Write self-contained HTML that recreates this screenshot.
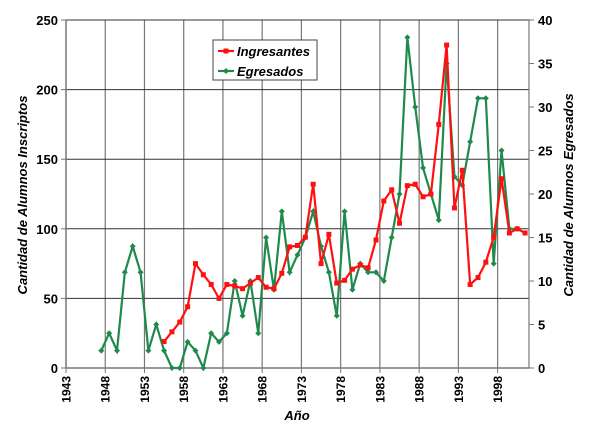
<!DOCTYPE html>
<html><head><meta charset="utf-8"><style>
body{margin:0;background:#fff}
svg text{font-family:"Liberation Sans",Arial,sans-serif;font-weight:bold;fill:#000}
</style></head><body>
<svg width="600" height="437" id="c">
</svg>
<script>
const years = [];for(let y=1943;y<=2001;y++)years.push(y);
const ingYears = [1955,1956,1957,1958,1959,1960,1961,1962,1963,1964,1965,1966,1967,1968,1969,1970,1971,1972,1973,1974,1975,1976,1977,1978,1979,1980,1981,1982,1983,1984,1985,1986,1987,1988,1989,1990,1991,1992,1993,1994,1995,1996,1997,1998,1999,2000,2001];
const ingValues = [19,26,33,44,75,67,60,50,60,59,57,61,65,58,57,68,87,88,94,132,75,96,61,63,71,74,72,92,120,128,104,131,132,123,125,175,232,115,142,60,65,76,94,136,97,100,97];
const egrYears = [1947,1948,1949,1950,1951,1952,1953,1954,1955,1956,1957,1958,1959,1960,1961,1962,1963,1964,1965,1966,1967,1968,1969,1970,1971,1972,1973,1974,1975,1976,1977,1978,1979,1980,1981,1982,1983,1984,1985,1986,1987,1988,1989,1990,1991,1992,1993,1994,1995,1996,1997,1998,1999,2000];
const egrValues = [2,4,2,11,14,11,2,5,2,0,0,3,2,0,4,3,4,10,6,10,4,15,9,18,11,13,15,18,14,11,6,18,9,12,11,11,10,15,20,38,30,23,20,17,35,22,21,26,31,31,12,25,16,16];
const leftTicks = [0,50,100,150,200,250];
const rightTicks = [0,5,10,15,20,25,30,35,40];
const xTickYears = [1943,1948,1953,1958,1963,1968,1973,1978,1983,1988,1993,1998];

const L=66,R=529,T=20,B=368,yw=(R-L)/59;
const xEdge=y=>L+(y-1943)*yw;
const xC=y=>xEdge(y)+yw/2;
const yL=v=>B-(v/250)*(B-T);
const yR=v=>B-(v/40)*(B-T);
const svg=document.getElementById('c');const NS='http://www.w3.org/2000/svg';
function mk(t,a,p){const e=document.createElementNS(NS,t);for(const k in a)e.setAttribute(k,a[k]);(p||svg).appendChild(e);return e;}

const grid=mk('g',{});


xTickYears.forEach(y=>{if(y>1943)mk('line',{x1:xEdge(y),x2:xEdge(y),y1:T,y2:B,stroke:'#777','stroke-width':1.2},grid);});
leftTicks.forEach(v=>{mk('line',{x1:L,x2:R,y1:yL(v),y2:yL(v),stroke:'#333','stroke-width':1},grid);});
mk('line',{x1:R,x2:R,y1:T,y2:B,stroke:'#777','stroke-width':1.2},grid);

const ax=mk('g',{});


mk('line',{x1:L,x2:L,y1:T,y2:B,stroke:'#777','stroke-width':1.5},ax);
mk('line',{x1:L,x2:R,y1:B,y2:B,stroke:'#777','stroke-width':1.5},ax);
leftTicks.forEach(v=>{mk('line',{x1:L-5,x2:L,y1:yL(v),y2:yL(v),stroke:'#777'},ax);
 const t=mk('text',{x:L-8,y:yL(v)+5,'text-anchor':'end','font-size':13},ax);t.textContent=v;
 });
rightTicks.forEach(v=>{mk('line',{x1:R,x2:R+5,y1:yR(v),y2:yR(v),stroke:'#777'},ax);
 const t=mk('text',{x:R+9,y:yR(v)+5,'font-size':13},ax);t.textContent=v;
 });
xTickYears.forEach(y=>{const x=xEdge(y);mk('line',{x1:x,x2:x,y1:B,y2:B+5,stroke:'#777'},ax);
 const t=mk('text',{x:0,y:0,'text-anchor':'end','font-size':12,transform:`translate(${x+4.5},${B+8}) rotate(-90)`},ax);t.textContent=y;
 });

function series(ys,vs,sc,color,name,marker){
 const g=mk('g',{});
 
 
 mk('polyline',{points:ys.map((y,i)=>xC(y)+','+sc(vs[i])).join(' '),fill:'none',stroke:color,'stroke-width':2.2},g);
 ys.forEach((y,i)=>{const x=xC(y),yy=sc(vs[i]);
  if(marker==='sq')mk('rect',{x:x-2.5,y:yy-2.5,width:5,height:5,fill:color},g);
  else mk('path',{d:`M${x-3},${yy}L${x},${yy-3}L${x+3},${yy}L${x},${yy+3}Z`,fill:color},g);});
}
series(egrYears,egrValues,yR,'#1f8a4c','egresados-series','dm');
series(ingYears,ingValues,yL,'#ff1010','ingresantes-series','sq');

const lg=mk('g',{});


mk('rect',{x:213,y:40,width:104,height:40,fill:'#fff',stroke:'#444'},lg);
mk('line',{x1:218,x2:234,y1:51,y2:51,stroke:'#ff1010','stroke-width':2.2},lg);
mk('rect',{x:223.5,y:48.5,width:5,height:5,fill:'#ff1010'},lg);
mk('line',{x1:218,x2:234,y1:71,y2:71,stroke:'#1f8a4c','stroke-width':2.2},lg);
mk('path',{d:'M223,71L226,68L229,71L226,74Z',fill:'#1f8a4c'},lg);
let t=mk('text',{x:237,y:56,'font-size':13,'font-style':'italic'},lg);t.textContent='Ingresantes';
t=mk('text',{x:237,y:76,'font-size':13,'font-style':'italic'},lg);t.textContent='Egresados';

t=mk('text',{x:0,y:0,'font-size':13,'font-style':'italic','text-anchor':'middle',transform:'translate(27,195) rotate(-90)'});t.textContent='Cantidad de Alumnos Inscriptos';

t=mk('text',{x:0,y:0,'font-size':13,'font-style':'italic','text-anchor':'middle',transform:'translate(573,195) rotate(-90)'});t.textContent='Cantidad de Alumnos Egresados';

t=mk('text',{x:297,y:420,'font-size':13,'font-style':'italic','text-anchor':'middle'});t.textContent='Año';

</script>
</body></html>
